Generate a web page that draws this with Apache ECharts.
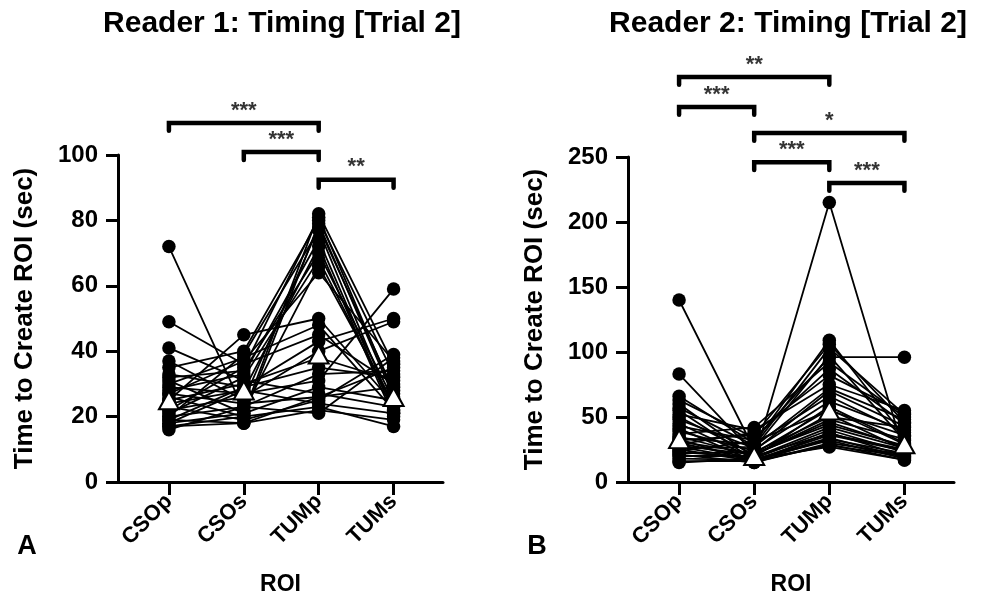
<!DOCTYPE html>
<html>
<head>
<meta charset="utf-8">
<script src="https://cdn.jsdelivr.net/npm/echarts@6/dist/echarts.min.js"></script>
<style>
  html, body { margin: 0; padding: 0; background: #fff; }
  #chart { width: 989px; height: 605px; }
</style>
</head>
<body>
<div id="chart"></div>
<script>
const categories = ['CSOp', 'CSOs', 'TUMp', 'TUMs'];

// Reader 1 - one entry per case, same index across the four ROIs
const r1CSOp = [72, 49, 41, 37, 35, 33, 32, 31, 30, 29, 28, 27, 27, 26, 25, 25, 24, 23, 22, 22, 21, 20, 20, 19, 19, 18, 18, 17, 17, 16];
const r1CSOs = [22, 36, 31, 25, 40, 29, 34, 21, 38, 27, 33, 24, 37, 20, 30, 45, 28, 19, 35, 26, 32, 23, 39, 18, 29, 21, 28, 20, 18, 23];
const r1TUMp = [66, 45, 27, 78, 80, 43, 70, 82, 48, 31, 74, 26, 64, 79, 38, 50, 72, 25, 81, 40, 68, 33, 77, 22, 35, 29, 24, 23, 26, 21];
const r1TUMs = [24, 30, 23, 28, 33, 50, 25, 36, 22, 59, 21, 29, 37, 26, 31, 24, 20, 39, 27, 49, 23, 34, 22, 19, 32, 25, 21, 17, 35, 38];
const r1Median = [25, 28, 39, 26];

// Reader 2
const r2CSOp = [140, 83, 66, 63, 60, 57, 55, 52, 50, 48, 45, 43, 41, 39, 37, 35, 34, 33, 32, 31, 30, 29, 28, 27, 26, 25, 24, 23, 22, 21, 20, 18, 16, 15];
const r2CSOs = [25, 22, 30, 34, 19, 28, 17, 40, 21, 26, 18, 32, 16, 24, 42, 20, 29, 15, 36, 22, 18, 38, 21, 17, 27, 16, 31, 19, 23, 15, 20, 17, 16, 18];
const r2TUMp = [62, 44, 109, 87, 58, 103, 36, 75, 46, 97, 215, 96, 38, 70, 92, 52, 66, 30, 106, 56, 40, 82, 48, 34, 72, 33, 55, 42, 50, 29, 37, 32, 28, 27];
const r2TUMs = [40, 28, 35, 45, 30, 52, 24, 55, 27, 32, 22, 96, 20, 43, 50, 25, 38, 21, 46, 29, 23, 53, 33, 19, 48, 22, 36, 26, 42, 17, 25, 18, 20, 17];
const r2Median = [33, 20, 55, 29];

// significance brackets: [from ROI, to ROI, height, stars]
const r1Brackets = [[0, 2, 109.8, '***'], [1, 2, 100.9, '***'], [2, 3, 92.4, '**']];
const r2Brackets = [[0, 2, 311.5, '**'], [0, 1, 288.5, '***'], [1, 3, 268.5, '*'], [1, 2, 246, '***'], [2, 3, 230, '***']];

const FONT = "'Liberation Sans', Arial, Helvetica, sans-serif";
const chart = echarts.init(document.getElementById('chart'), null, { renderer: 'canvas' });

function xAxis(gridIndex) {
    return {
        type: 'value', gridIndex: gridIndex, min: -0.68, max: 3.66,
        splitLine: { show: false },
        axisLine: { show: true, onZero: false, lineStyle: { color: '#000', width: 3 } },
        axisTick: { show: true, customValues: [0, 1, 2, 3], length: 13, lineStyle: { color: '#000', width: 3 } },
        axisLabel: {
            customValues: [0, 1, 2, 3],
            formatter: v => categories[Math.round(v)],
            rotate: 45, margin: 16,
            color: '#000', fontSize: 22, fontWeight: 'bold', fontFamily: FONT
        },
        name: 'ROI', nameLocation: 'middle', nameGap: 91,
        nameTextStyle: { color: '#000', fontSize: 23, fontWeight: 'bold', fontFamily: FONT }
    };
}

function yAxis(gridIndex, max, interval) {
    return {
        type: 'value', gridIndex: gridIndex, min: 0, max: max, interval: interval,
        splitLine: { show: false },
        axisLine: { show: true, onZero: false, lineStyle: { color: '#000', width: 3 } },
        axisTick: { show: true, length: 12, lineStyle: { color: '#000', width: 3 } },
        axisLabel: { margin: 20, color: '#000', fontSize: 24, fontWeight: 'bold', fontFamily: FONT },
        name: 'Time to Create ROI (sec)', nameLocation: 'middle', nameGap: 80, nameRotate: 90,
        nameTextStyle: { color: '#000', fontSize: 26, fontWeight: 'bold', fontFamily: FONT }
    };
}

function panelSeries(idx, cols, median, brackets, tickLen) {
    const out = [];
    const n = cols[0].length;
    for (let i = 0; i < n; i++) {
        out.push({
            type: 'line', xAxisIndex: idx, yAxisIndex: idx,
            data: cols.map((c, k) => [k, c[i]]),
            symbol: 'circle', symbolSize: 13.5, showSymbol: true,
            lineStyle: { color: '#000', width: 1.8 },
            itemStyle: { color: '#000', borderWidth: 0 },
            emphasis: { disabled: true }, silent: true, animation: false, z: 2
        });
    }
    out.push({
        type: 'scatter', xAxisIndex: idx, yAxisIndex: idx,
        data: median.map((v, k) => [k, v]),
        symbol: 'triangle', symbolSize: [20, 18],
        itemStyle: { color: '#fff', opacity: 1, borderColor: '#000', borderWidth: 2 },
        emphasis: { disabled: true }, silent: true, animation: false, z: 5
    });
    brackets.forEach(b => {
        out.push({
            type: 'line', xAxisIndex: idx, yAxisIndex: idx, clip: false,
            data: [[b[0], b[2] - tickLen], [b[0], b[2]], [b[1], b[2]], [b[1], b[2] - tickLen]],
            symbol: 'none',
            lineStyle: { color: '#000', width: 4.5, cap: 'round', join: 'miter' },
            silent: true, animation: false, z: 3
        });
        out.push({
            type: 'scatter', xAxisIndex: idx, yAxisIndex: idx, clip: false,
            data: [[(b[0] + b[1]) / 2, b[2]]],
            symbolSize: 1, itemStyle: { color: 'transparent' },
            label: {
                show: true, position: 'top', distance: 1, formatter: b[3],
                color: '#000', fontSize: 22, fontWeight: 'bold', fontFamily: FONT
            },
            silent: true, animation: false, z: 3
        });
    });
    return out;
}

const option = {
    backgroundColor: '#fff',
    animation: false,
    grid: [
        { left: 118, right: 989 - 443, top: 155, bottom: 605 - 482 },
        { left: 628, right: 989 - 954, top: 157, bottom: 605 - 482 }
    ],
    xAxis: [xAxis(0), xAxis(1)],
    yAxis: [yAxis(0, 100, 20), yAxis(1, 250, 50)],
    graphic: [
        { type: 'text', x: 282, y: 24, style: { text: 'Reader 1: Timing [Trial 2]', align: 'center', verticalAlign: 'middle', fill: '#000', font: 'bold 30px ' + FONT } },
        { type: 'text', x: 788, y: 24, style: { text: 'Reader 2: Timing [Trial 2]', align: 'center', verticalAlign: 'middle', fill: '#000', font: 'bold 30px ' + FONT } },
        { type: 'text', x: 27, y: 547, style: { text: 'A', align: 'center', verticalAlign: 'middle', fill: '#000', font: 'bold 27px ' + FONT } },
        { type: 'text', x: 537, y: 547, style: { text: 'B', align: 'center', verticalAlign: 'middle', fill: '#000', font: 'bold 27px ' + FONT } }
    ],
    series: [].concat(
        panelSeries(0, [r1CSOp, r1CSOs, r1TUMp, r1TUMs], r1Median, r1Brackets, 2.4),
        panelSeries(1, [r2CSOp, r2CSOs, r2TUMp, r2TUMs], r2Median, r2Brackets, 6)
    )
};

chart.setOption(option);
</script>
</body>
</html>
